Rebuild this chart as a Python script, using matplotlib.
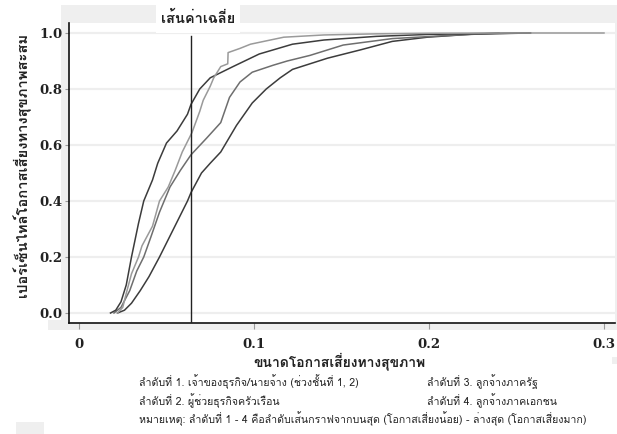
import matplotlib
matplotlib.use("Agg")
import matplotlib.pyplot as plt
from matplotlib import font_manager as fm
from matplotlib.ft2font import FT2Font
from matplotlib.patches import Rectangle

# ---------------- data ----------------
mean_x = 0.064

c1_x = [0.018, 0.021, 0.024, 0.027, 0.030, 0.034, 0.037, 0.042, 0.045, 0.050, 0.056, 0.062, 0.064,
        0.069, 0.075, 0.088, 0.103, 0.122, 0.140, 0.170, 0.200, 0.230, 0.258]
c1_y = [0.0, 0.01, 0.04, 0.10, 0.20, 0.32, 0.40, 0.475, 0.535, 0.607, 0.65, 0.71, 0.745,
        0.80, 0.84, 0.88, 0.925, 0.96, 0.975, 0.988, 0.995, 0.998, 1.0]

c2_x = [0.022, 0.025, 0.027, 0.030, 0.034, 0.036, 0.042, 0.046, 0.051, 0.055, 0.059, 0.0646, 0.069,
        0.071, 0.075, 0.077, 0.081, 0.085, 0.0852, 0.092, 0.098, 0.117, 0.140, 0.170, 0.200, 0.250, 0.300]
c2_y = [0.0, 0.02, 0.07, 0.14, 0.20, 0.24, 0.31, 0.40, 0.45, 0.51, 0.575, 0.645, 0.72,
        0.76, 0.81, 0.84, 0.88, 0.89, 0.93, 0.945, 0.96, 0.985, 0.993, 0.997, 0.999, 1.0, 1.0]

c3_x = [0.020, 0.024, 0.029, 0.033, 0.037, 0.041, 0.046, 0.052, 0.058, 0.064, 0.073, 0.081, 0.086,
        0.092, 0.099, 0.111, 0.119, 0.132, 0.151, 0.179, 0.208, 0.240]
c3_y = [0.0, 0.02, 0.08, 0.15, 0.20, 0.27, 0.36, 0.45, 0.51, 0.565, 0.625, 0.68, 0.77,
        0.825, 0.86, 0.885, 0.90, 0.92, 0.957, 0.98, 0.99, 1.0]

c4_x = [0.022, 0.026, 0.030, 0.035, 0.040, 0.046, 0.050, 0.054, 0.058, 0.062, 0.064, 0.070, 0.075,
        0.081, 0.090, 0.099, 0.107, 0.115, 0.122, 0.142, 0.161, 0.179, 0.199, 0.225, 0.258]
c4_y = [0.0, 0.01, 0.035, 0.08, 0.13, 0.20, 0.25, 0.30, 0.35, 0.40, 0.43, 0.50, 0.535,
        0.575, 0.67, 0.75, 0.80, 0.84, 0.87, 0.91, 0.94, 0.97, 0.985, 0.996, 1.0]

x_ticks = [0, 0.1, 0.2, 0.3]
x_tick_labels = ["0", "0.1", "0.2", "0.3"]
y_ticks = [0.0, 0.2, 0.4, 0.6, 0.8, 1.0]
y_tick_labels = ["0.0", "0.2", "0.4", "0.6", "0.8", "1.0"]

mean_label = "เส้นค่าเฉลี่ย"
x_label = "ขนาดโอกาสเสี่ยงทางสุขภาพ"
y_label = "เปอร์เซ็นไทล์โอกาสเสี่ยงทางสุขภาพสะสม"
note_1 = "ลำดับที่ 1. เจ้าของธุรกิจ/นายจ้าง (ช่วงชั้นที่ 1, 2)"
note_2 = "ลำดับที่ 2. ผู้ช่วยธุรกิจครัวเรือน"
note_3 = "ลำดับที่ 3. ลูกจ้างภาครัฐ"
note_4 = "ลำดับที่ 4. ลูกจ้างภาคเอกชน"
note_5 = "หมายเหตุ: ลำดับที่ 1 - 4 คือลำดับเส้นกราฟจากบนสุด (โอกาสเสี่ยงน้อย) - ล่างสุด (โอกาสเสี่ยงมาก)"


# ---------------- fonts ----------------
def find_thai():
    names = []
    for f in fm.fontManager.ttflist:
        try:
            cm = FT2Font(f.fname).get_charmap()
            if 0x0E01 in cm and 0x0E2A in cm and 0x0E48 in cm:
                names.append(f.name)
        except Exception:
            pass
    return names


thai = find_thai()
thai_fam = (thai[:1] if thai else []) + ["DejaVu Sans"]
num_fam = ["DejaVu Serif"]

W, H = 617, 434
fig = plt.figure(figsize=(W / 100, H / 100), dpi=100)
fig.patch.set_facecolor("white")


def px_rect(x0, y0, x1, y1, color, z=-1):
    r = Rectangle((x0 / W, 1 - y1 / H), (x1 - x0) / W, (y1 - y0) / H,
                  transform=fig.transFigure, facecolor=color, edgecolor="none", zorder=z)
    fig.patches.append(r)


gray = "#efefef"
px_rect(61, 5, 617, 330, gray)
px_rect(48, 320, 61, 330, gray)
px_rect(16, 422, 44, 434, gray)
px_rect(612, 357, 617, 364, gray)

ax = fig.add_axes([69 / W, 1 - 323 / H, (615 - 69) / W, (323 - 23) / H])
ax.set_facecolor("white")
ax.set_xlim(-0.00571, 0.30629)
ax.set_ylim(-0.0357, 1.0357)

for yv in y_ticks:
    ax.axhline(yv, color="#eeeeee", lw=1.6, zorder=0)

ax.plot(c4_x, c4_y, color="#3c3c3c", lw=1.1, zorder=3)
ax.plot(c3_x, c3_y, color="#6e6e6e", lw=1.1, zorder=3)
ax.plot(c1_x, c1_y, color="#3c3c3c", lw=1.1, zorder=4)
ax.plot(c2_x, c2_y, color="#9a9a9a", lw=1.1, zorder=5)

ax.plot([mean_x, mean_x], [-0.0357, 0.989], color="#222222", lw=1.0, zorder=6)

for s in ["top", "right"]:
    ax.spines[s].set_visible(False)
for s in ["left", "bottom"]:
    ax.spines[s].set_color("#111111")
    ax.spines[s].set_linewidth(1.2)

ax.set_xticks(x_ticks)
ax.set_xticklabels(x_tick_labels, fontfamily=num_fam, fontweight="bold", fontsize=9.5, color="#222222")
ax.set_yticks(y_ticks)
ax.set_yticklabels(y_tick_labels, fontfamily=num_fam, fontweight="bold", fontsize=9.5, color="#222222")
ax.tick_params(axis="x", length=4, color="#999999", pad=7)
ax.tick_params(axis="y", length=3, color="#999999", pad=2)

# white box for mean label
px_rect(156, 5, 240, 33, "white", z=2)
fig.text(198 / W, 1 - 18 / H, mean_label, ha="center", va="center", fontsize=10.5,
         fontweight="bold", family=thai_fam, color="#222222", zorder=3)

fig.text(339 / W, 1 - 361 / H, x_label, ha="center", va="center", fontsize=10,
         fontweight="bold", family=thai_fam, color="#222222")
fig.text(22 / W, 1 - 165 / H, y_label, ha="center", va="center", rotation=90, fontsize=10.6,
         fontweight="bold", family=thai_fam, color="#222222")

nfs = 7.6
fig.text(139 / W, 1 - 382 / H, note_1, ha="left", va="center", fontsize=nfs, family=thai_fam, color="#222222")
fig.text(139 / W, 1 - 401 / H, note_2, ha="left", va="center", fontsize=nfs, family=thai_fam, color="#222222")
fig.text(139 / W, 1 - 419 / H, note_5, ha="left", va="center", fontsize=nfs, family=thai_fam, color="#222222")
fig.text(427 / W, 1 - 382 / H, note_3, ha="left", va="center", fontsize=nfs, family=thai_fam, color="#222222")
fig.text(427 / W, 1 - 401 / H, note_4, ha="left", va="center", fontsize=nfs, family=thai_fam, color="#222222")

fig.savefig("out.png", dpi=100, facecolor="white")
